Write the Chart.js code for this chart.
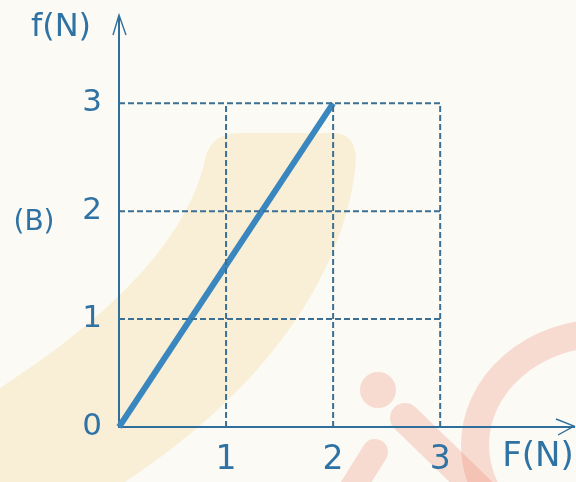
<!DOCTYPE html>
<html>
<head>
<meta charset="utf-8">
<script src="https://cdn.jsdelivr.net/npm/chart.js@4"></script>
<style>
  html, body { margin: 0; padding: 0; background: #fbfaf4; }
  canvas { display: block; }
</style>
</head>
<body>
<canvas id="forceChart" width="576" height="482"></canvas>
<script>
// applied force F vs friction f, both in newtons
const appliedForce = [0, 2];
const frictionForce = [0, 3];
const tickValues = [0, 1, 2, 3];
const gridLimit = 3;
const xMax = 4.25;
const yMax = 3.8;

const axisBlue = '#2f6f9c';
const textBlue = '#2f72a4';
const lineBlue = '#3a86be';
const gridBlue = '#3b6f93';

// dashed guide lines at every unit inside the 3x3 box
const gridSets = [];
tickValues.slice(1).forEach(v => {
  gridSets.push({
    data: [{ x: 0, y: v }, { x: gridLimit, y: v }],
    borderColor: gridBlue, borderWidth: 2, borderDash: [6, 3],
    pointRadius: 0, clip: false
  });
  gridSets.push({
    data: [{ x: v, y: 0 }, { x: v, y: gridLimit }],
    borderColor: gridBlue, borderWidth: 2, borderDash: [6, 3],
    pointRadius: 0, clip: false
  });
});

// faded stamp behind the figure plus background
const backdrop = {
  id: 'backdrop',
  beforeDraw(chart) {
    const c = chart.ctx;
    c.save();
    c.fillStyle = '#fbfaf4';
    c.fillRect(0, 0, chart.width, chart.height);

    c.fillStyle = 'rgba(246, 226, 180, 0.45)';
    c.beginPath();
    c.moveTo(0, 388);
    c.bezierCurveTo(90, 330, 185, 250, 205, 160);
    c.quadraticCurveTo(210, 133, 240, 133);
    c.lineTo(335, 133);
    c.quadraticCurveTo(360, 135, 355, 170);
    c.bezierCurveTo(340, 290, 250, 400, 125, 482);
    c.lineTo(0, 482);
    c.closePath();
    c.fill();

    c.fillStyle = 'rgba(238, 120, 96, 0.24)';
    c.strokeStyle = 'rgba(238, 120, 96, 0.24)';
    c.beginPath();
    c.arc(378, 390, 18, 0, Math.PI * 2);
    c.fill();
    c.lineCap = 'round';
    c.lineWidth = 30;
    c.beginPath();
    c.moveTo(405, 418);
    c.lineTo(500, 510);
    c.stroke();
    c.lineWidth = 26;
    c.beginPath();
    c.moveTo(375, 452);
    c.lineTo(345, 500);
    c.stroke();
    c.lineWidth = 28;
    c.beginPath();
    c.ellipse(605, 445, 130, 112, 0, 0, Math.PI * 2);
    c.stroke();
    c.restore();
  }
};

// axis arrows and free text around the plot
const annotations = {
  id: 'annotations',
  afterDraw(chart) {
    const c = chart.ctx;
    const a = chart.chartArea;
    const ox = chart.scales.x.getPixelForValue(0);
    const oy = chart.scales.y.getPixelForValue(0);
    c.save();
    c.strokeStyle = axisBlue;
    c.lineWidth = 1.4;
    c.beginPath();
    c.moveTo(ox - 6, a.top + 18);
    c.lineTo(ox, a.top - 2);
    c.lineTo(ox + 7, a.top + 18);
    c.moveTo(a.right - 18, oy - 8);
    c.lineTo(a.right, oy - 1);
    c.lineTo(a.right - 16, oy + 8);
    c.stroke();

    c.fillStyle = textBlue;
    c.textBaseline = 'middle';
    c.textAlign = 'center';
    c.font = '32px "DejaVu Sans"';
    c.fillText('f(N)', 61, 28);
    c.font = '34px "DejaVu Sans"';
    c.fillText('F(N)', 538, 457);
    c.font = '28px "DejaVu Sans"';
    c.fillText('(B)', 34, 223);
    c.restore();
  }
};

new Chart(document.getElementById('forceChart'), {
  type: 'line',
  data: {
    datasets: [
      ...gridSets,
      {
        data: appliedForce.map((x, i) => ({ x: x, y: frictionForce[i] })),
        borderColor: lineBlue,
        borderWidth: 6,
        pointRadius: 0,
        clip: false
      }
    ]
  },
  options: {
    responsive: false,
    animation: false,
    layout: { padding: { left: 0, top: 17, right: 2, bottom: 0 } },
    plugins: { legend: { display: false }, tooltip: { enabled: false } },
    scales: {
      x: {
        type: 'linear',
        min: 0,
        max: xMax,
        afterBuildTicks: s => { s.ticks = tickValues.slice(1).map(v => ({ value: v })); },
        afterFit: s => { s.height = 55; s.paddingLeft = 0; s.paddingRight = 0; },
        grid: { display: false, drawTicks: false },
        border: { display: true, color: axisBlue, width: 2 },
        ticks: {
          color: textBlue,
          padding: 14,
          font: { family: 'DejaVu Sans', size: 33 }
        }
      },
      y: {
        type: 'linear',
        min: 0,
        max: yMax,
        afterBuildTicks: s => { s.ticks = tickValues.map(v => ({ value: v })); },
        afterFit: s => { s.width = 119; s.paddingTop = 0; s.paddingBottom = 0; },
        grid: { display: false, drawTicks: false },
        border: { display: true, color: axisBlue, width: 2 },
        ticks: {
          color: textBlue,
          padding: 17,
          font: { family: 'DejaVu Sans', size: 31 }
        }
      }
    }
  },
  plugins: [backdrop, annotations]
});
</script>
</body>
</html>
